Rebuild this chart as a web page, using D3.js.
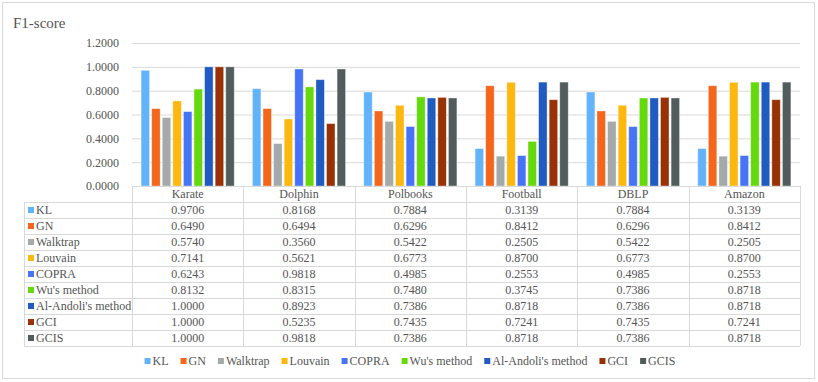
<!DOCTYPE html>
<html>
<head>
<meta charset="utf-8">
<script src="https://cdn.jsdelivr.net/npm/d3@7"></script>
<style>
  body { margin: 0; background: #fff; }
  svg text { font-family: "Liberation Serif", "Times New Roman", serif; fill: #555; }
</style>
</head>
<body>
<svg id="chart" width="818" height="382"></svg>
<script>
// datasets along the x axis
const datasets = ['Karate', 'Dolphin', 'Polbooks', 'Football', 'DBLP', 'Amazon'];
// one entry per method, values follow datasets order
const methods = ['KL', 'GN', 'Walktrap', 'Louvain', 'COPRA', "Wu's method", "Al-Andoli's method", 'GCI', 'GCIS'];
const KL       = [0.9706, 0.8168, 0.7884, 0.3139, 0.7884, 0.3139];
const GN       = [0.6490, 0.6494, 0.6296, 0.8412, 0.6296, 0.8412];
const Walktrap = [0.5740, 0.3560, 0.5422, 0.2505, 0.5422, 0.2505];
const Louvain  = [0.7141, 0.5621, 0.6773, 0.8700, 0.6773, 0.8700];
const COPRA    = [0.6243, 0.9818, 0.4985, 0.2553, 0.4985, 0.2553];
const Wu       = [0.8132, 0.8315, 0.7480, 0.3745, 0.7386, 0.8718];
const AlAndoli = [1.0000, 0.8923, 0.7386, 0.8718, 0.7386, 0.8718];
const GCI      = [1.0000, 0.5235, 0.7435, 0.7241, 0.7435, 0.7241];
const GCIS     = [1.0000, 0.9818, 0.7386, 0.8718, 0.7386, 0.8718];
const yTicks = [0, 0.2, 0.4, 0.6, 0.8, 1.0, 1.2];
const colors = ['#63b3fb', '#f4661b', '#a4aaa9', '#fdb80f', '#4774f6', '#66d90e', '#1f5bc0', '#983106', '#535c5c'];

const series = [KL, GN, Walktrap, Louvain, COPRA, Wu, AlAndoli, GCI, GCIS];

const svg = d3.select('#chart');
const gridCol = '#d9d9d9';

// outer frame
svg.append('rect')
  .attr('x', 2.5).attr('y', 2.5)
  .attr('width', 812).attr('height', 376)
  .attr('fill', 'none').attr('stroke', gridCol);

svg.append('text')
  .attr('x', 13).attr('y', 28)
  .style('font-size', '15px')
  .text('F1-score');

const plotL = 132, plotR = 800, plotT = 43, base = 186;

const x = d3.scaleBand().domain(datasets).range([plotL, plotR]);
const xi = d3.scaleBand().domain(methods).range([0, x.bandwidth()])
  .paddingInner(0.2).paddingOuter(0.86);
const y = d3.scaleLinear().domain([0, 1.2]).range([base, plotT]);

// grid + y labels
const yAxis = d3.axisLeft(y).tickValues(yTicks).tickFormat(d3.format('.4f'))
  .tickSize(-(plotR - plotL)).tickPadding(13);
const ga = svg.append('g').attr('transform', `translate(${plotL},0)`).call(yAxis);
ga.select('.domain').remove();
ga.selectAll('line').attr('stroke', gridCol);
ga.selectAll('text').style('font-size', '12px')
  .style('font-family', '"Liberation Serif", serif');

// bars
const groups = svg.append('g').selectAll('g')
  .data(datasets)
  .join('g')
  .attr('transform', d => `translate(${x(d)},0)`);

groups.selectAll('rect')
  .data((d, i) => methods.map((m, k) => ({ m, k, v: series[k][i] })))
  .join('rect')
  .attr('x', d => xi(d.m))
  .attr('width', xi.bandwidth())
  .attr('y', d => y(d.v))
  .attr('height', d => base - y(d.v))
  .attr('fill', d => colors[d.k])
  .attr('stroke', '#ffffff').attr('stroke-opacity', 0.45).attr('stroke-width', 0.8);

// data table
const rowH = 16, headTop = base, bodyTop = base + rowH, tabLeft = 24;
const bodyBot = bodyTop + rowH * methods.length;
const tg = svg.append('g').attr('stroke', gridCol).attr('stroke-width', 1);

// horizontal lines
tg.append('line').attr('x1', plotL).attr('x2', plotR).attr('y1', headTop + 0.5).attr('y2', headTop + 0.5);
d3.range(methods.length + 1).forEach(i => {
  const yy = bodyTop + i * rowH + 0.5;
  tg.append('line').attr('x1', tabLeft).attr('x2', plotR).attr('y1', yy).attr('y2', yy);
});
// vertical lines
tg.append('line').attr('x1', tabLeft + 0.5).attr('x2', tabLeft + 0.5).attr('y1', bodyTop).attr('y2', bodyBot);
datasets.concat(['end']).forEach((d, i) => {
  const xx = Math.round(plotL + i * x.bandwidth()) + 0.5;
  tg.append('line').attr('x1', xx).attr('x2', xx).attr('y1', headTop).attr('y2', bodyBot);
});

// header
svg.append('g').selectAll('text')
  .data(datasets)
  .join('text')
  .attr('x', d => x(d) + x.bandwidth() / 2)
  .attr('y', headTop + 12)
  .attr('text-anchor', 'middle')
  .style('font-size', '12px')
  .text(d => d);

// rows
const rows = svg.append('g').selectAll('g')
  .data(methods)
  .join('g')
  .attr('transform', (d, i) => `translate(0,${bodyTop + i * rowH})`);

rows.append('rect')
  .attr('x', 28).attr('y', 5).attr('width', 6).attr('height', 6)
  .attr('fill', (d, i) => colors[i]);
rows.append('text')
  .attr('x', 36).attr('y', 12)
  .style('font-size', '12px')
  .text(d => d);
rows.selectAll('text.v')
  .data((m, k) => datasets.map((d, i) => ({ d, v: series[k][i] })))
  .join('text')
  .attr('class', 'v')
  .attr('x', d => x(d.d) + x.bandwidth() / 2)
  .attr('y', 12)
  .attr('text-anchor', 'middle')
  .style('font-size', '12px')
  .text(d => d.v.toFixed(4));

// bottom legend
const lg = svg.append('g').attr('transform', 'translate(0,363)');
const items = lg.selectAll('g').data(methods).join('g');
items.append('rect').attr('x', 0).attr('y', -5).attr('width', 6).attr('height', 6)
  .attr('fill', (d, i) => colors[i]);
items.append('text').attr('x', 8).attr('y', 1.5)
  .style('font-size', '12px').text(d => d);
let cx = 0;
items.each(function () {
  const w = this.querySelector('text').getComputedTextLength();
  d3.select(this).attr('transform', `translate(${cx},0)`);
  cx += 8 + w + 12;
});
const total = cx - 12;
lg.attr('transform', `translate(${410 - total / 2},363)`);
</script>
</body>
</html>
